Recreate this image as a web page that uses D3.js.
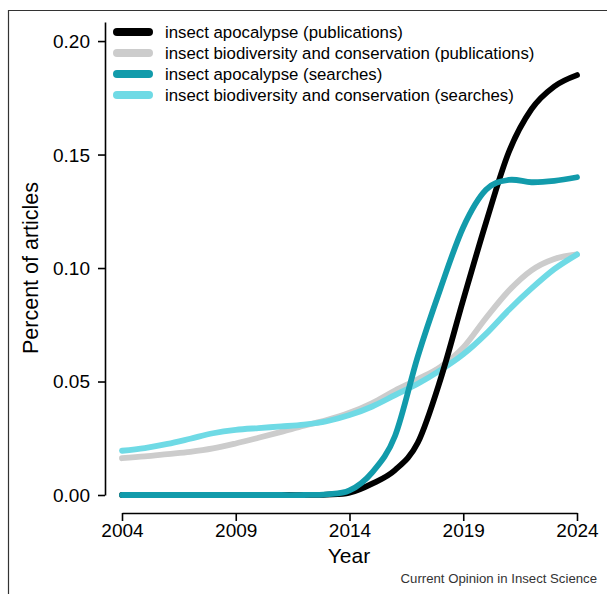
<!DOCTYPE html>
<html>
<head>
<meta charset="utf-8">
<script src="https://cdn.jsdelivr.net/npm/d3@7"></script>
<style>
  html, body { margin: 0; padding: 0; background: #ffffff; }
  svg { display: block; font-family: "Liberation Sans", Arial, Helvetica, sans-serif; }
</style>
</head>
<body>
<svg id="chart" width="607" height="594"></svg>
<script>
// Share of articles mentioning each topic, per year
const years = [2004, 2005, 2006, 2007, 2008, 2009, 2010, 2011, 2012, 2013, 2014,
               2015, 2016, 2017, 2018, 2019, 2020, 2021, 2022, 2023, 2024];

const apocalypsePublications = [0, 0, 0, 0, 0, 0, 0, 0, 0, 0.0002, 0.001,
  0.005, 0.011, 0.023, 0.051, 0.086, 0.120, 0.151, 0.170, 0.180, 0.185];

const biodiversityPublications = [0.0162, 0.0170, 0.0180, 0.0190, 0.0205, 0.0227, 0.0252, 0.0278, 0.0305, 0.0330, 0.0362,
  0.0405, 0.0460, 0.0510, 0.0565, 0.0650, 0.0780, 0.0900, 0.0990, 0.1040, 0.1060];

const apocalypseSearches = [0, 0, 0, 0, 0, 0, 0, 0, 0, 0.0003, 0.002,
  0.010, 0.026, 0.061, 0.091, 0.118, 0.1345, 0.1388, 0.1378, 0.1384, 0.140];

const biodiversitySearches = [0.0195, 0.0207, 0.0225, 0.0248, 0.0272, 0.0287, 0.0295, 0.0302, 0.0310, 0.0325, 0.0352,
  0.0390, 0.0440, 0.0490, 0.0550, 0.0620, 0.0710, 0.0815, 0.0910, 0.0995, 0.1060];

const xTicks = [2004, 2009, 2014, 2019, 2024];
const yTicks = [0, 0.05, 0.10, 0.15, 0.20];

const seriesLabels = [
  "insect apocalypse (publications)",
  "insect biodiversity and conservation (publications)",
  "insect apocalypse (searches)",
  "insect biodiversity and conservation (searches)"
];
const seriesColors = ["#000000", "#cccccc", "#129bab", "#6fdae5"];
const seriesValues = [apocalypsePublications, biodiversityPublications, apocalypseSearches, biodiversitySearches];

const series = seriesLabels.map((label, i) => ({
  label, color: seriesColors[i],
  points: years.map((yr, j) => ({ year: yr, value: seriesValues[i][j] }))
}));

const svg = d3.select("#chart");

// outer frame (top and left edges visible)
svg.append("path")
  .attr("d", "M8.5,594 V10.5 H607")
  .attr("fill", "none")
  .attr("stroke", "#333333")
  .attr("stroke-width", 1.2);

const x = d3.scaleLinear().domain([2004, 2024]).range([122, 577]);
const y = d3.scaleLinear().domain([0, 0.2084]).range([495, 22]);

// x axis
const xAxis = svg.append("g")
  .attr("transform", "translate(0,513)")
  .call(d3.axisBottom(x).tickValues(xTicks).tickFormat(d3.format("d"))
        .tickSizeInner(8).tickSizeOuter(0).tickPadding(2));
xAxis.select(".domain").attr("stroke", "#000").attr("stroke-width", 1.6);
xAxis.selectAll(".tick line").attr("stroke", "#000").attr("stroke-width", 1.6);
xAxis.selectAll(".tick text").attr("fill", "#000")
  .style("font-size", "19px").attr("y", 24).attr("dy", 0);

// y axis
const yAxis = svg.append("g")
  .attr("transform", "translate(105,0)")
  .call(d3.axisLeft(y).tickValues(yTicks).tickFormat(d3.format(".2f"))
        .tickSizeInner(7).tickSizeOuter(0).tickPadding(8));
yAxis.select(".domain").attr("stroke", "#000").attr("stroke-width", 1.6);
yAxis.selectAll(".tick line").attr("stroke", "#000").attr("stroke-width", 1.6);
yAxis.selectAll(".tick text").attr("fill", "#000")
  .style("font-size", "19px").attr("dy", "0.34em");

// axis titles
svg.append("text")
  .attr("x", 349).attr("y", 563)
  .attr("text-anchor", "middle")
  .style("font-size", "21px")
  .text("Year");

svg.append("text")
  .attr("transform", "translate(38,268) rotate(-90)")
  .attr("text-anchor", "middle")
  .style("font-size", "21.5px")
  .text("Percent of articles");

// smoothed trend lines (uniform Catmull-Rom through the yearly values)
const line = d3.line()
  .x(d => x(d.year))
  .y(d => y(d.value))
  .curve(d3.curveCardinal.tension(0));

const drawOrder = [1, 3, 0, 2];
svg.append("g").selectAll("path")
  .data(drawOrder.map(i => series[i]))
  .join("path")
  .attr("d", d => line(d.points))
  .attr("fill", "none")
  .attr("stroke", d => d.color)
  .attr("stroke-width", 5.8)
  .attr("stroke-linecap", "round")
  .attr("stroke-linejoin", "round");

// legend
const legend = svg.append("g");
const legendRows = legend.selectAll("g")
  .data(series)
  .join("g")
  .attr("transform", (d, i) => `translate(0,${32 + i * 21})`);
legendRows.append("line")
  .attr("x1", 117).attr("x2", 149)
  .attr("y1", 0).attr("y2", 0)
  .attr("stroke", d => d.color)
  .attr("stroke-width", 8)
  .attr("stroke-linecap", "round");
legendRows.append("text")
  .attr("x", 165).attr("y", 0).attr("dy", "0.36em")
  .style("font-size", "16.8px")
  .attr("fill", "#000")
  .text(d => d.label);

// source caption
svg.append("text")
  .attr("x", 597).attr("y", 583)
  .attr("text-anchor", "end")
  .style("font-size", "13.2px")
  .attr("fill", "#333333")
  .text("Current Opinion in Insect Science");
</script>
</body>
</html>
